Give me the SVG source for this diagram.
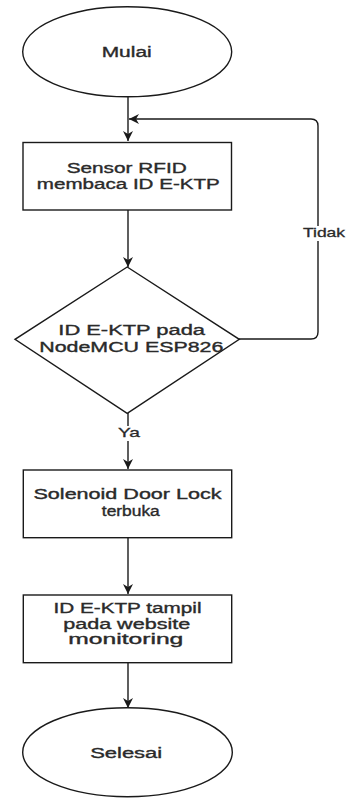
<svg xmlns="http://www.w3.org/2000/svg" width="348" height="798" viewBox="0 0 348 798">
  <defs>
    <style>
      .shape { fill: #ffffff; stroke: #1a1a1a; stroke-width: 1.4; }
      .edge { fill: none; stroke: #1a1a1a; stroke-width: 1.4; }
      .txt { font-family: "Liberation Sans", Arial, sans-serif; font-size: 14px; fill: #2a2a2a; stroke: #2a2a2a; stroke-width: 0.35; text-anchor: middle; }
      .lbl { font-family: "Liberation Sans", Arial, sans-serif; font-size: 13px; fill: #2a2a2a; stroke: #2a2a2a; stroke-width: 0.3; text-anchor: middle; }
    </style>
    <marker id="arrow" markerUnits="userSpaceOnUse" markerWidth="12" markerHeight="12" viewBox="0 0 12 12" refX="11" refY="6" orient="auto">
      <path d="M1,1 L11,6 L1,11 L4,6 Z" fill="#1a1a1a"/>
    </marker>
  </defs>

  <rect width="348" height="798" fill="#ffffff"/>

  <!-- connectors -->
  <g id="connectors">
    <path class="edge" d="M128,97 L128,141" marker-end="url(#arrow)"/>
    <path class="edge" d="M128,210 L128,267" marker-end="url(#arrow)"/>
    <path class="edge" d="M128,413 L128,469" marker-end="url(#arrow)"/>
    <path class="edge" d="M128,538 L128,594" marker-end="url(#arrow)"/>
    <path class="edge" d="M128,662 L128,708" marker-end="url(#arrow)"/>
    <path class="edge" d="M239,339 L311,339 Q318,339 318,332 L318,126 Q318,119 311,119 L129,119" marker-end="url(#arrow)"/>
    <rect x="302" y="226" width="44" height="15" fill="#ffffff"/>
    <text class="lbl" x="324" y="237" textLength="42" lengthAdjust="spacingAndGlyphs">Tidak</text>
    <rect x="117" y="426" width="24" height="15" fill="#ffffff"/>
    <text class="lbl" x="129" y="437" textLength="22" lengthAdjust="spacingAndGlyphs">Ya</text>
  </g>

  <g id="start">
    <ellipse class="shape" cx="127.2" cy="51.7" rx="104.5" ry="45"/>
    <text class="txt" x="126.7" y="57" textLength="50" lengthAdjust="spacingAndGlyphs">Mulai</text>
  </g>

  <g id="read-id">
    <rect class="shape" x="23" y="142.5" width="208.5" height="67.5"/>
    <text class="txt" x="126.7" y="172.7" textLength="120" lengthAdjust="spacingAndGlyphs">Sensor RFID</text>
    <text class="txt" x="128.3" y="188.5" textLength="183" lengthAdjust="spacingAndGlyphs">membaca ID E-KTP</text>
  </g>

  <g id="check-id">
    <polygon class="shape" points="127.2,267 239.3,339.3 127.2,413.3 15,339.3"/>
    <text class="txt" x="131.7" y="335" textLength="146.7" lengthAdjust="spacingAndGlyphs">ID E-KTP pada</text>
    <text class="txt" x="131.3" y="352.3" textLength="184" lengthAdjust="spacingAndGlyphs">NodeMCU ESP826</text>
  </g>

  <g id="unlock">
    <rect class="shape" x="23.3" y="470" width="208.4" height="67.7"/>
    <text class="txt" x="127.5" y="499" textLength="188" lengthAdjust="spacingAndGlyphs">Solenoid Door Lock</text>
    <text class="txt" x="130.8" y="515.7" textLength="58" lengthAdjust="spacingAndGlyphs">terbuka</text>
  </g>

  <g id="show-web">
    <rect class="shape" x="23.3" y="595" width="208.4" height="67.7"/>
    <text class="txt" x="127.5" y="613.3" textLength="148" lengthAdjust="spacingAndGlyphs">ID E-KTP tampil</text>
    <text class="txt" x="126.7" y="628.8" textLength="127" lengthAdjust="spacingAndGlyphs">pada website</text>
    <text class="txt" x="125.8" y="643.5" textLength="115" lengthAdjust="spacingAndGlyphs">monitoring</text>
  </g>

  <g id="end">
    <ellipse class="shape" cx="127.5" cy="752.2" rx="104.8" ry="44.5"/>
    <text class="txt" x="126.2" y="758.3" textLength="72" lengthAdjust="spacingAndGlyphs">Selesai</text>
  </g>
</svg>
